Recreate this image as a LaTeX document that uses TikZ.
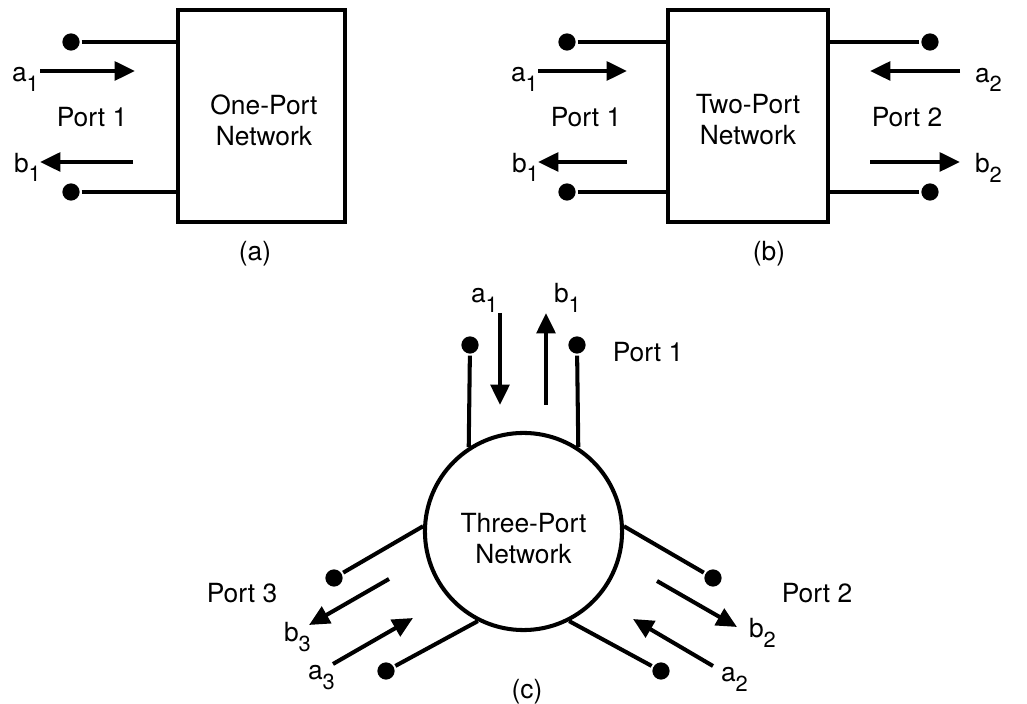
\documentclass[tikz,border=0pt]{standalone}
\usepackage{fontspec}
\setmainfont{TeX Gyre Heros}
\usetikzlibrary{arrows.meta}

% wave label with a lowered index
\newcommand{\wv}[2]{#1\raisebox{-2.6pt}{\fontsize{6.2}{6.5}\selectfont #2}}

\begin{document}
\begin{tikzpicture}[x=0.01cm, y=-0.01cm, line width=1.15pt,
    every node/.style={font=\fontsize{7.5}{8.8}\selectfont},
    term/.style={circle, fill, inner sep=0pt, minimum size=4.9pt},
    wave/.style={-{Triangle[length=5.8pt, width=5.3pt]}},
    sig/.style={anchor=base west, inner sep=0pt},
    netbox/.style={draw, minimum width=1.67cm, minimum height=2.12cm, inner sep=0pt}]
    \useasboundingbox (0,0) rectangle (1027,704);

    % (a) one-port
    \node[netbox] (one) at (261.5,116) {};
    \node[align=center] at (264,120) {One-Port\\Network};
    \foreach \y [count=\i] in {42,192} {
        \node[term] (al\i) at (71,\y) {};
        \draw (al\i) -- (one.west |- al\i);
    }
    \draw[wave] (40,71) -- (135,71);
    \draw[wave] (133,162) -- (40,162);
    \node[sig] at (10,82) {\wv{a}{1}};
    \node[sig] at (12,172.5) {\wv{b}{1}};
    \node at (92,117.5) {Port 1};
    \node at (255,254) {(a)};

    % (b) two-port
    \node[netbox, minimum width=1.6cm] (two) at (748,116) {};
    \node[align=center] at (748,120) {Two-Port\\Network};
    \foreach \y [count=\i] in {42,192} {
        \node[term] (bl\i) at (567,\y) {};
        \node[term] (br\i) at (930,\y) {};
        \draw (bl\i) -- (two.west |- bl\i);
        \draw (br\i) -- (two.east |- br\i);
    }
    \draw[wave] (538,71) -- (627,71);
    \draw[wave] (627,162) -- (538,162);
    \draw[wave] (960,71) -- (870,71);
    \draw[wave] (870,162) -- (960,162);
    \node[sig] at (509,82) {\wv{a}{1}};
    \node[sig] at (510,172.5) {\wv{b}{1}};
    \node[sig] at (973,82.5) {\wv{a}{2}};
    \node[sig] at (973,173) {\wv{b}{2}};
    \node at (586,117.5) {Port 1};
    \node at (907,117.5) {Port 2};
    \node at (769,254) {(b)};

    % (c) three-port
    \node[draw, circle, minimum size=1.97cm, inner sep=0pt] (three) at (523.5,531.5) {};
    \node[align=center] at (523.5,539) {Three-Port\\Network};

    % port 1
    \node[term] (p1l) at (470,345) {};
    \node[term] (p1r) at (577,345) {};
    \draw (p1l) -- (three.123);
    \draw (p1r) -- (three.57);
    \draw[wave] (500,313) -- (500,405);
    \draw[wave] (546,405) -- (546,313);
    \node[sig] at (469,303) {\wv{a}{1}};
    \node[sig] at (552,303) {\wv{b}{1}};
    \node at (648,352) {Port 1};

    % port 2
    \node[term] (p2u) at (713,578) {};
    \node[term] (p2d) at (661,671) {};
    \draw (p2u) -- (three.3);
    \draw (p2d) -- (three.-63);
    \draw[wave] (657,581) -- (737,627);
    \draw[wave] (713,666) -- (633,619);
    \node[sig] at (747,638) {\wv{b}{2}};
    \node[sig] at (719,682) {\wv{a}{2}};
    \node at (817,593) {Port 2};

    % port 3
    \node[term] (p3u) at (334,578) {};
    \node[term] (p3d) at (386,671) {};
    \draw (p3u) -- (three.177);
    \draw (p3d) -- (three.243);
    \draw[wave] (389,579) -- (309,625);
    \draw[wave] (333,664) -- (413,618);
    \node[sig] at (282,642) {\wv{b}{3}};
    \node[sig] at (306,680) {\wv{a}{3}};
    \node at (242,593) {Port 3};

    \node at (527,692) {(c)};
\end{tikzpicture}
\end{document}
